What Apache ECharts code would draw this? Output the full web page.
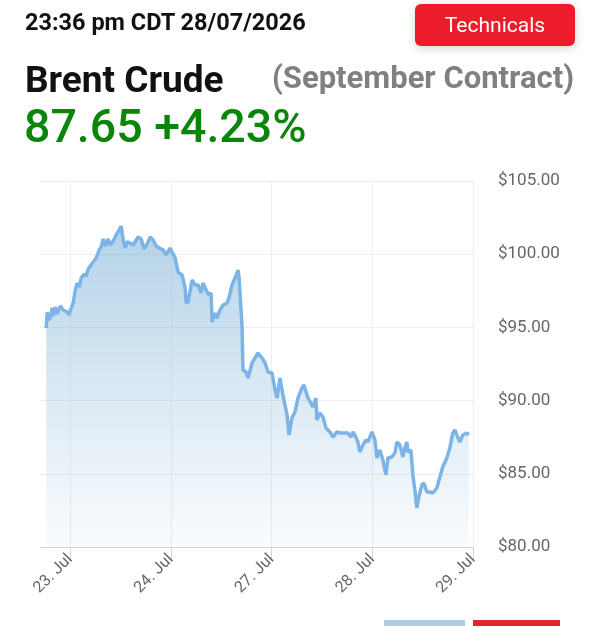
<!DOCTYPE html>
<html>
<head>
<meta charset="utf-8">
<script src="https://cdn.jsdelivr.net/npm/echarts@6/dist/echarts.min.js"></script>
<style>
  html, body { margin: 0; padding: 0; background: #fff; width: 600px; height: 626px; overflow: hidden; font-family: Roboto, "Noto Sans", sans-serif; }
  #chart { position: absolute; left: 0; top: 0; width: 600px; height: 626px; }
  .t { position: absolute; white-space: nowrap; line-height: 1; }
  #time { left: 25px; top: 11px; font-size: 23.5px; font-weight: 700; color: #111; }
  #btn { position: absolute; left: 415px; top: 4px; width: 160px; height: 42px; background: #ec1c2b; border-radius: 6px; box-shadow: 0 2px 10px rgba(0,0,0,0.18); color: #fff; font-size: 21px; text-align: center; line-height: 42px; }
  #name { left: 25px; top: 61px; font-size: 37px; font-weight: 700; color: #111; }
  #contract { left: 272px; top: 62px; font-size: 31px; font-weight: 700; color: #808080; }
  #price { left: 24px; top: 103px; font-size: 46.5px; font-weight: 500; color: #0a850a; }
  #b1 { position: absolute; left: 384px; top: 620px; width: 81px; height: 8px; background: #a9cde2; }
  #b2 { position: absolute; left: 473px; top: 620px; width: 87px; height: 8px; background: #e0262d; }
</style>
</head>
<body>
<div id="chart"></div>
<div class="t" id="time">23:36 pm CDT 28/07/2026</div>
<div id="btn">Technicals</div>
<div class="t" id="name">Brent Crude</div>
<div class="t" id="contract">(September Contract)</div>
<div class="t" id="price">87.65 +4.23%</div>
<div id="b1"></div>
<div id="b2"></div>
<script>
// Tick labels (trading days, weekend gap removed)
const dayLabels = ['23. Jul', '24. Jul', '27. Jul', '28. Jul', '29. Jul'];
const dayTicks = [0, 1, 2, 3, 4];
const priceTicks = [80, 85, 90, 95, 100, 105];

// Time position in trading days from 23 Jul 00:00
const times = [
  -0.238, -0.228, -0.218, -0.198, -0.179, -0.169, -0.149, -0.129, -0.099, -0.069,
  -0.030, -0.010, 0.000, 0.030, 0.050, 0.069, 0.089, 0.109, 0.139, 0.159,
  0.179, 0.198, 0.228, 0.258, 0.288, 0.308, 0.327, 0.347, 0.377, 0.397,
  0.427, 0.456, 0.486, 0.506, 0.526, 0.546, 0.565, 0.595, 0.625, 0.655,
  0.675, 0.704, 0.734, 0.764, 0.794, 0.823, 0.853, 0.883, 0.923, 0.952,
  0.992, 1.042, 1.071, 1.111, 1.141, 1.151, 1.171, 1.210, 1.240, 1.270,
  1.300, 1.319, 1.359, 1.379, 1.399, 1.409, 1.438, 1.458, 1.488, 1.518,
  1.558, 1.577, 1.607, 1.637, 1.667, 1.677, 1.706, 1.716, 1.746, 1.766,
  1.806, 1.835, 1.865, 1.905, 1.935, 1.964, 2.004, 2.034, 2.054, 2.083,
  2.113, 2.153, 2.173, 2.202, 2.232, 2.262, 2.302, 2.321, 2.361, 2.411,
  2.440, 2.450, 2.480, 2.510, 2.540, 2.579, 2.609, 2.649, 2.679, 2.708,
  2.758, 2.788, 2.808, 2.837, 2.857, 2.877, 2.907, 2.937, 2.956, 2.996,
  3.026, 3.046, 3.075, 3.105, 3.135, 3.155, 3.194, 3.224, 3.244, 3.274,
  3.304, 3.323, 3.343, 3.353, 3.383, 3.403, 3.423, 3.442, 3.462, 3.492,
  3.512, 3.542, 3.571, 3.601, 3.641, 3.671, 3.700, 3.740, 3.770, 3.800,
  3.819, 3.839, 3.869, 3.899, 3.938, 3.958
];
// Brent price, USD
const prices = [
  94.96, 96.05, 95.51, 95.64, 96.33, 95.78, 96.39, 95.92, 96.46, 96.19,
  96.05, 95.85, 96.12, 96.67, 97.55, 98.03, 97.76, 98.37, 98.65, 98.51,
  98.99, 99.06, 99.47, 99.74, 100.29, 100.49, 101.04, 100.56, 101.04, 100.63,
  100.90, 101.31, 101.65, 101.93, 100.97, 100.42, 100.83, 100.77, 100.63, 100.97,
  101.17, 101.04, 100.36, 100.70, 101.17, 100.97, 100.56, 100.42, 100.29, 99.95,
  100.42, 99.74, 98.78, 98.58, 97.69, 96.67, 96.73, 98.24, 97.90, 97.90,
  97.35, 98.03, 97.42, 97.21, 97.35, 95.37, 95.98, 95.64, 96.19, 96.53,
  96.67, 97.01, 97.90, 98.37, 98.92, 98.37, 95.16, 92.09, 91.95, 91.54,
  92.57, 92.91, 93.25, 92.91, 92.57, 91.95, 91.89, 90.72, 90.18, 91.54,
  90.38, 89.02, 87.65, 88.81, 89.22, 90.18, 90.86, 91.07, 90.18, 89.56,
  90.18, 88.67, 89.15, 88.88, 88.13, 87.86, 87.51, 87.86, 87.79, 87.79,
  87.79, 87.51, 87.86, 87.51, 87.17, 86.49, 86.97, 87.31, 87.17, 87.86,
  87.31, 86.08, 86.63, 85.94, 84.92, 86.08, 86.15, 86.42, 87.17, 86.97,
  86.15, 86.76, 87.17, 86.49, 86.63, 84.92, 83.89, 82.66, 83.42, 84.23,
  84.37, 83.76, 83.76, 83.69, 84.03, 84.78, 85.46, 86.08, 86.76, 87.79,
  87.99, 87.65, 87.17, 87.65, 87.79, 87.65
];

const seriesData = times.map((t, i) => [t, prices[i]]);

const chart = echarts.init(document.getElementById('chart'), null, { renderer: 'canvas' });
chart.setOption({
  animation: false,
  grid: { left: 40, right: 127, top: 181, bottom: 79, containLabel: false },
  xAxis: {
    type: 'value',
    min: -0.3,
    max: 4,
    axisLine: { show: true, lineStyle: { color: '#ccd6eb', width: 1 } },
    axisTick: { show: true, customValues: dayTicks, length: 14, lineStyle: { color: '#ccd6eb' } },
    axisLabel: {
      customValues: dayTicks,
      rotate: 45,
      margin: 10,
      color: '#666666',
      fontSize: 16,
      fontFamily: 'Roboto',
      formatter: function (v) { const i = dayTicks.indexOf(Math.round(v)); return i >= 0 ? dayLabels[i] : ''; }
    },
    splitLine: { show: true, customValues: dayTicks, lineStyle: { color: '#eeeeee', width: 1 } }
  },
  yAxis: {
    type: 'value',
    position: 'right',
    min: priceTicks[0],
    max: priceTicks[priceTicks.length - 1],
    interval: 5,
    axisLine: { show: false },
    axisTick: { show: false },
    axisLabel: {
      margin: 25,
      color: '#666666',
      fontSize: 17,
      fontFamily: 'Roboto',
      formatter: function (v) { return '$' + v.toFixed(2); }
    },
    splitLine: { show: true, lineStyle: { color: '#eeeeee', width: 1 } }
  },
  series: [{
    type: 'line',
    data: seriesData,
    showSymbol: false,
    lineStyle: { color: '#7cb4e8', width: 3.5 },
    itemStyle: { color: '#7cb4e8' },
    areaStyle: {
      color: new echarts.graphic.LinearGradient(0, 0, 0, 1, [
        { offset: 0, color: 'rgba(120,175,215,0.80)' },
        { offset: 0.54, color: 'rgba(120,175,215,0.37)' },
        { offset: 1, color: 'rgba(120,175,215,0.06)' }
      ])
    }
  }]
});
</script>
</body>
</html>
